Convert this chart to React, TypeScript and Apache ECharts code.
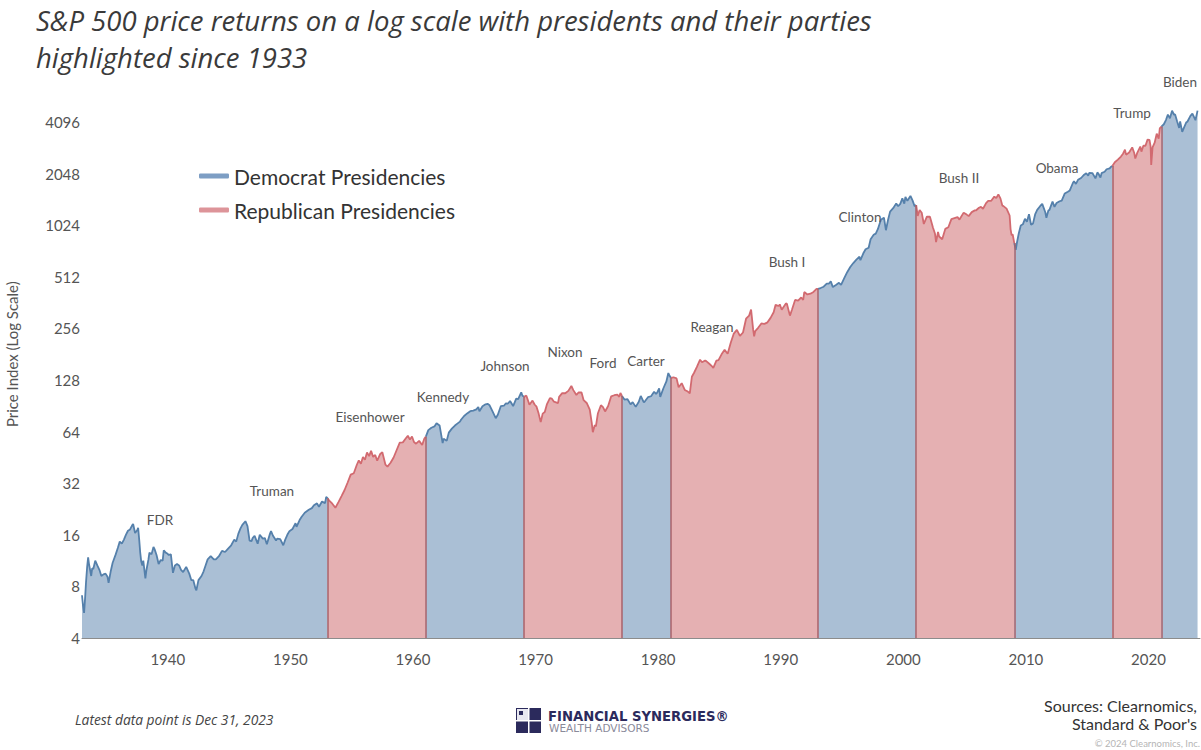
import React, { useEffect, useRef } from "react";
import * as echarts from "echarts";

// S&P 500 price index (decimal year, value)
const sp500: [number, number][] = [
  [1933.0, 7.1], [1933.08, 6.2], [1933.17, 5.6], [1933.25, 6.8], [1933.33, 8.5], [1933.42, 10.4], [1933.5, 11.8], [1933.58, 10.7], [1933.67, 9.9], [1933.75, 9.2], [1933.83, 10.2], [1933.92, 10.1],
  [1934.08, 11.3], [1934.25, 10.6], [1934.42, 10.0], [1934.58, 9.2], [1934.75, 9.4], [1934.92, 9.5],
  [1935.08, 9.1], [1935.17, 8.4], [1935.33, 9.7], [1935.5, 11.0], [1935.75, 12.3], [1935.92, 13.4],
  [1936.08, 14.6], [1936.25, 14.2], [1936.42, 15.0], [1936.58, 16.0], [1936.75, 16.9], [1936.92, 17.2],
  [1937.08, 18.1], [1937.17, 18.5], [1937.33, 16.4], [1937.5, 17.0], [1937.58, 17.6], [1937.67, 14.9], [1937.75, 12.6], [1937.83, 11.2], [1937.92, 10.6],
  [1938.0, 11.3], [1938.17, 8.9], [1938.25, 9.9], [1938.42, 11.5], [1938.5, 12.6], [1938.67, 12.3], [1938.83, 13.6], [1938.92, 13.2],
  [1939.08, 12.2], [1939.25, 10.8], [1939.42, 11.4], [1939.58, 11.3], [1939.67, 13.0], [1939.83, 12.6], [1939.92, 12.5],
  [1940.08, 12.2], [1940.25, 12.3], [1940.42, 9.6], [1940.58, 10.6], [1940.75, 10.8], [1940.92, 10.6],
  [1941.08, 10.0], [1941.25, 9.7], [1941.5, 10.4], [1941.75, 9.5], [1941.92, 8.7],
  [1942.08, 8.7], [1942.25, 7.8], [1942.33, 7.6], [1942.5, 8.7], [1942.75, 9.2], [1942.92, 9.8],
  [1943.08, 10.6], [1943.25, 11.5], [1943.5, 12.0], [1943.75, 11.5], [1943.92, 11.5],
  [1944.17, 12.0], [1944.42, 12.9], [1944.67, 12.7], [1944.92, 13.3],
  [1945.17, 13.9], [1945.42, 15.0], [1945.58, 14.6], [1945.75, 16.2], [1945.92, 17.4],
  [1946.08, 18.3], [1946.33, 19.2], [1946.5, 18.0], [1946.67, 14.8], [1946.83, 14.7], [1946.92, 15.3],
  [1947.08, 15.8], [1947.33, 14.2], [1947.5, 16.0], [1947.75, 15.2], [1947.92, 15.3],
  [1948.08, 14.1], [1948.33, 16.2], [1948.42, 16.8], [1948.58, 15.8], [1948.83, 14.8], [1948.92, 15.2],
  [1949.17, 15.1], [1949.42, 13.9], [1949.58, 15.0], [1949.75, 16.0], [1949.92, 16.8],
  [1950.17, 17.3], [1950.42, 18.7], [1950.5, 17.8], [1950.75, 19.5], [1950.92, 20.4],
  [1951.17, 21.5], [1951.5, 22.4], [1951.75, 22.9], [1951.92, 23.8],
  [1952.17, 24.4], [1952.33, 23.3], [1952.58, 25.0], [1952.83, 24.5], [1952.92, 26.6],
  [1953.05, 26.1], [1953.17, 25.3], [1953.42, 24.3], [1953.67, 23.0], [1953.92, 24.8],
  [1954.17, 26.9], [1954.42, 29.2], [1954.67, 32.3], [1954.92, 35.9],
  [1955.17, 36.6], [1955.42, 41.0], [1955.58, 43.5], [1955.75, 41.5], [1955.92, 45.5],
  [1956.08, 43.8], [1956.25, 48.4], [1956.42, 46.0], [1956.58, 49.4], [1956.75, 45.6], [1956.92, 46.7],
  [1957.08, 43.3], [1957.33, 47.4], [1957.5, 48.5], [1957.75, 41.1], [1957.92, 40.0],
  [1958.17, 42.1], [1958.42, 45.2], [1958.67, 50.0], [1958.92, 55.2],
  [1959.17, 55.4], [1959.42, 58.5], [1959.58, 60.5], [1959.75, 57.5], [1959.92, 59.9],
  [1960.08, 55.6], [1960.25, 54.4], [1960.5, 56.5], [1960.75, 53.4], [1960.92, 58.1],
  [1961.05, 59.8], [1961.25, 65.3], [1961.5, 67.4], [1961.75, 68.6], [1961.92, 71.6],
  [1962.17, 69.5], [1962.42, 54.8], [1962.5, 58.2], [1962.75, 56.5], [1962.92, 63.1],
  [1963.17, 66.6], [1963.42, 69.4], [1963.67, 71.7], [1963.83, 73.2], [1963.92, 75.0],
  [1964.17, 78.9], [1964.42, 81.7], [1964.67, 84.2], [1964.92, 84.8],
  [1965.17, 86.2], [1965.33, 89.1], [1965.42, 84.1], [1965.67, 90.0], [1965.92, 92.4],
  [1966.08, 92.9], [1966.25, 91.1], [1966.5, 83.6], [1966.75, 76.6], [1966.92, 80.3],
  [1967.17, 90.2], [1967.42, 90.6], [1967.58, 93.6], [1967.75, 93.3], [1967.92, 96.5],
  [1968.17, 90.2], [1968.42, 99.6], [1968.58, 98.9], [1968.83, 108.4], [1968.92, 103.9],
  [1969.05, 102.0], [1969.25, 103.7], [1969.5, 91.8], [1969.75, 97.1], [1969.92, 92.1],
  [1970.08, 89.5], [1970.25, 81.5], [1970.42, 72.7], [1970.58, 81.5], [1970.75, 83.3], [1970.92, 92.2],
  [1971.17, 100.3], [1971.33, 99.6], [1971.5, 95.6], [1971.83, 93.9], [1971.92, 102.1],
  [1972.17, 107.2], [1972.42, 107.1], [1972.67, 110.6], [1972.92, 118.1],
  [1973.08, 111.7], [1973.33, 104.7], [1973.5, 108.2], [1973.75, 108.3], [1973.92, 97.6],
  [1974.17, 94.0], [1974.42, 86.0], [1974.58, 72.2], [1974.67, 63.5], [1974.83, 70.0], [1974.92, 68.6],
  [1975.08, 81.6], [1975.33, 91.2], [1975.5, 88.8], [1975.67, 83.9], [1975.92, 90.2],
  [1976.17, 102.8], [1976.42, 104.3], [1976.67, 105.2], [1976.83, 102.1], [1976.92, 107.5],
  [1977.05, 103.3], [1977.25, 98.4], [1977.5, 98.9], [1977.75, 92.3], [1977.92, 95.1],
  [1978.17, 89.2], [1978.42, 95.5], [1978.58, 103.3], [1978.83, 94.7], [1978.92, 96.1],
  [1979.17, 101.6], [1979.42, 102.9], [1979.67, 109.3], [1979.83, 106.2], [1979.92, 107.9],
  [1980.08, 114.2], [1980.17, 102.1], [1980.42, 114.2], [1980.67, 125.5], [1980.83, 140.5], [1980.92, 135.8],
  [1981.05, 131.6], [1981.25, 132.8], [1981.5, 130.9], [1981.67, 116.2], [1981.92, 122.6],
  [1982.17, 112.0], [1982.42, 109.6], [1982.58, 107.1], [1982.75, 133.7], [1982.92, 140.6],
  [1983.17, 153.0], [1983.42, 168.1], [1983.58, 162.6], [1983.83, 166.4], [1983.92, 164.9],
  [1984.17, 159.2], [1984.42, 153.2], [1984.5, 150.7], [1984.75, 166.1], [1984.92, 167.2],
  [1985.17, 180.7], [1985.42, 191.9], [1985.67, 182.1], [1985.92, 211.3],
  [1986.17, 238.9], [1986.42, 250.8], [1986.67, 231.3], [1986.92, 242.2],
  [1987.17, 291.7], [1987.42, 304.0], [1987.58, 329.8], [1987.75, 251.8], [1987.83, 230.3], [1987.92, 247.1],
  [1988.17, 258.9], [1988.42, 273.5], [1988.67, 272.0], [1988.92, 277.7],
  [1989.17, 294.9], [1989.42, 318.0], [1989.58, 351.5], [1989.83, 346.0], [1989.92, 353.4],
  [1990.08, 329.1], [1990.42, 358.0], [1990.5, 356.2], [1990.75, 304.0], [1990.92, 330.2],
  [1991.17, 375.2], [1991.42, 371.2], [1991.67, 387.9], [1991.83, 375.2], [1991.92, 417.1],
  [1992.17, 403.7], [1992.42, 408.1], [1992.67, 417.8], [1992.92, 435.7],
  [1993.05, 435.1], [1993.25, 440.2], [1993.5, 448.1], [1993.75, 467.8], [1993.92, 466.5],
  [1994.08, 481.6], [1994.25, 445.8], [1994.5, 458.3], [1994.75, 472.4], [1994.92, 459.3],
  [1995.17, 500.7], [1995.42, 544.8], [1995.67, 584.4], [1995.92, 615.9],
  [1996.17, 645.5], [1996.42, 670.6], [1996.5, 639.9], [1996.75, 705.3], [1996.92, 740.7],
  [1997.17, 757.1], [1997.33, 848.3], [1997.58, 899.5], [1997.75, 914.6], [1997.92, 970.4],
  [1998.17, 1101.8], [1998.42, 1133.8], [1998.58, 957.3], [1998.75, 1098.7], [1998.92, 1229.2],
  [1999.17, 1286.4], [1999.42, 1372.7], [1999.58, 1320.4], [1999.75, 1362.9], [1999.92, 1469.3],
  [2000.08, 1366.4], [2000.17, 1498.6], [2000.33, 1420.6], [2000.58, 1517.7], [2000.75, 1429.4], [2000.92, 1320.3],
  [2001.05, 1342.5], [2001.17, 1160.3], [2001.33, 1255.8], [2001.5, 1211.2], [2001.67, 1040.9], [2001.92, 1148.1],
  [2002.17, 1147.4], [2002.42, 989.8], [2002.58, 916.1], [2002.67, 815.3], [2002.83, 936.3], [2002.92, 879.8],
  [2003.17, 848.2], [2003.42, 974.5], [2003.67, 996.0], [2003.92, 1111.9],
  [2004.17, 1126.2], [2004.42, 1140.8], [2004.58, 1104.2], [2004.92, 1211.9],
  [2005.17, 1180.6], [2005.33, 1156.9], [2005.58, 1220.3], [2005.83, 1249.5], [2005.92, 1248.3],
  [2006.17, 1294.8], [2006.33, 1310.6], [2006.5, 1276.7], [2006.75, 1377.9], [2006.92, 1418.3],
  [2007.17, 1420.9], [2007.42, 1503.3], [2007.58, 1474.0], [2007.75, 1549.4], [2007.92, 1468.4],
  [2008.08, 1330.6], [2008.17, 1322.7], [2008.42, 1280.0], [2008.67, 1166.4], [2008.75, 968.8], [2008.83, 896.2], [2008.92, 903.3],
  [2009.05, 805.2], [2009.17, 735.1], [2009.25, 797.9], [2009.42, 919.3], [2009.58, 1020.6], [2009.75, 1036.2], [2009.92, 1115.1],
  [2010.08, 1073.9], [2010.25, 1186.7], [2010.42, 1030.7], [2010.58, 1049.3], [2010.75, 1183.3], [2010.92, 1257.6],
  [2011.17, 1325.8], [2011.33, 1363.6], [2011.58, 1218.9], [2011.67, 1131.4], [2011.83, 1247.0], [2011.92, 1257.6],
  [2012.17, 1408.5], [2012.33, 1310.3], [2012.5, 1379.3], [2012.75, 1412.2], [2012.92, 1426.2],
  [2013.17, 1569.2], [2013.42, 1606.3], [2013.58, 1633.0], [2013.83, 1805.8], [2013.92, 1848.4],
  [2014.08, 1782.6], [2014.25, 1883.9], [2014.5, 1930.7], [2014.75, 2018.1], [2014.92, 2058.9],
  [2015.08, 1995.0], [2015.17, 2067.9], [2015.42, 2063.1], [2015.58, 1972.2], [2015.67, 1920.0], [2015.83, 2080.4], [2015.92, 2043.9],
  [2016.08, 1940.2], [2016.17, 2059.7], [2016.42, 2098.9], [2016.58, 2171.0], [2016.83, 2198.8], [2016.92, 2238.8],
  [2017.05, 2271.3], [2017.25, 2384.2], [2017.5, 2470.3], [2017.75, 2575.3], [2017.92, 2673.6],
  [2018.08, 2823.8], [2018.17, 2640.9], [2018.42, 2718.4], [2018.67, 2914.0], [2018.83, 2711.7], [2018.92, 2506.9],
  [2019.08, 2704.1], [2019.33, 2945.8], [2019.42, 2752.1], [2019.58, 2980.4], [2019.75, 2976.7], [2019.92, 3230.8],
  [2020.08, 3225.5], [2020.17, 2954.2], [2020.22, 2300.0], [2020.33, 2912.4], [2020.5, 3100.3], [2020.67, 3500.3], [2020.83, 3270.0], [2020.92, 3756.1],
  [2021.05, 3851.9], [2021.25, 3972.9], [2021.42, 4204.1], [2021.58, 4522.7], [2021.75, 4307.5], [2021.92, 4766.2],
  [2022.08, 4515.6], [2022.17, 4530.4], [2022.33, 4131.9], [2022.5, 3785.4], [2022.58, 4130.3], [2022.75, 3585.6], [2022.92, 3839.5],
  [2023.08, 4076.6], [2023.17, 4109.3], [2023.42, 4450.4], [2023.58, 4589.0], [2023.83, 4193.8], [2024.0, 4769.8],
];

// Party control periods (start, end as decimal years)
const partyPeriods: { party: "D" | "R"; start: number; end: number }[] = [
  { party: "D", start: 1933.0, end: 1953.05 },
  { party: "R", start: 1953.05, end: 1961.05 },
  { party: "D", start: 1961.05, end: 1969.05 },
  { party: "R", start: 1969.05, end: 1977.05 },
  { party: "D", start: 1977.05, end: 1981.05 },
  { party: "R", start: 1981.05, end: 1993.05 },
  { party: "D", start: 1993.05, end: 2001.05 },
  { party: "R", start: 2001.05, end: 2009.05 },
  { party: "D", start: 2009.05, end: 2017.05 },
  { party: "R", start: 2017.05, end: 2021.05 },
  { party: "D", start: 2021.05, end: 2024.0 },
];

const yTicks = [4, 8, 16, 32, 64, 128, 256, 512, 1024, 2048, 4096];
const xTickYears = [1940, 1950, 1960, 1970, 1980, 1990, 2000, 2010, 2020];

// President name annotations [name, px x, px y]
const presidentLabels: [string, number, number][] = [
  ["FDR", 160, 520], ["Truman", 272, 491], ["Eisenhower", 370, 417], ["Kennedy", 443, 397],
  ["Johnson", 505, 366], ["Nixon", 565, 352], ["Ford", 603, 363], ["Carter", 646, 361],
  ["Reagan", 712, 327], ["Bush I", 787, 262], ["Clinton", 860, 217], ["Bush II", 959, 178],
  ["Obama", 1057, 168], ["Trump", 1132, 113], ["Biden", 1180, 82],
];

const titleLines = [
  "S&P 500 price returns on a log scale with presidents and their parties",
  "highlighted since 1933",
];

const DEM = "Democrat Presidencies";
const REP = "Republican Presidencies";
const colors = {
  D: { line: "#5580ab", fill: "#aabfd5", legend: "#7d9ec4" },
  R: { line: "#d26a70", fill: "#e5b0b2", legend: "#dd9499" },
};
const boundaryColor = "#a9626a";
const FONT = "Lato, 'Noto Sans', sans-serif";

export default function App() {
  const ref = useRef<HTMLDivElement>(null);
  useEffect(() => {
    document.body.style.margin = "0";
    if (!ref.current) return;
    const chart = echarts.init(ref.current, undefined, { renderer: "svg" });

    const series: any[] = partyPeriods.map((p, i) => {
      const pts = sp500.filter((d) => d[0] >= p.start && d[0] <= p.end);
      const c = colors[p.party];
      const s: any = {
        type: "line",
        name: p.party === "D" ? DEM : REP,
        data: pts,
        showSymbol: false,
        symbol: "none",
        color: c.line,
        lineStyle: { color: c.line, width: 1.8 },
        areaStyle: { color: c.fill, opacity: 1, origin: "start" },
        z: 2,
      };
      if (i > 0 && pts.length) {
        s.markLine = {
          silent: true,
          symbol: "none",
          label: { show: false },
          lineStyle: { color: boundaryColor, width: 1.5, type: "solid" },
          data: [[{ coord: [pts[0][0], 4] }, { coord: [pts[0][0], pts[0][1]] }]],
        };
      }
      return s;
    });

    const graphics: any[] = presidentLabels.map(([name, x, y]) => ({
      type: "text",
      x,
      y,
      style: {
        text: name,
        fontFamily: FONT,
        fontSize: 13.5,
        fill: "#555",
        textAlign: "center",
        textVerticalAlign: "middle",
      },
      z: 10,
    }));

    titleLines.forEach((line, i) => {
      graphics.push({
        type: "text",
        x: 36,
        y: 20 + i * 37,
        style: {
          text: line,
          fontFamily: "'Open Sans', sans-serif",
          fontStyle: "italic",
          fontSize: 27.5,
          fill: "#3a3a3a",
          textVerticalAlign: "middle",
        },
      });
    });

    graphics.push(
      {
        type: "text",
        x: 75,
        y: 719,
        style: {
          text: "Latest data point is Dec 31, 2023",
          fontFamily: "'Open Sans', sans-serif",
          fontStyle: "italic",
          fontSize: 13.8,
          fill: "#444",
          textVerticalAlign: "middle",
        },
      },
      // logo icon
      { type: "rect", shape: { x: 516, y: 708, width: 25, height: 25 }, style: { fill: "#2b2a5c" } },
      { type: "rect", shape: { x: 517, y: 709, width: 11, height: 11 }, style: { fill: "#e8e8f0" } },
      { type: "rect", shape: { x: 519, y: 711, width: 4, height: 4 }, style: { fill: "#2b2a5c" } },
      { type: "rect", shape: { x: 528, y: 708, width: 1.5, height: 25 }, style: { fill: "#ffffff" } },
      { type: "rect", shape: { x: 516, y: 720, width: 25, height: 1.5 }, style: { fill: "#ffffff" } },
      {
        type: "text",
        x: 548,
        y: 716,
        style: {
          text: "FINANCIAL SYNERGIES®",
          fontFamily: "'DejaVu Sans', sans-serif",
          fontWeight: "bold",
          fontSize: 13.2,
          fill: "#2b2a5c",
          textVerticalAlign: "middle",
        },
      },
      {
        type: "text",
        x: 549,
        y: 728,
        style: {
          text: "WEALTH ADVISORS",
          fontFamily: "'DejaVu Sans', sans-serif",
          fontSize: 10.5,
          fill: "#8a8a9a",
          textVerticalAlign: "middle",
        },
      },
      {
        type: "text",
        x: 1197,
        y: 696,
        style: {
          text: "Sources: Clearnomics,\nStandard & Poor's",
          fontFamily: FONT,
          fontSize: 16,
          lineHeight: 18.5,
          fill: "#333",
          textAlign: "right",
        },
      },
      {
        type: "text",
        x: 1200,
        y: 743,
        style: {
          text: "© 2024 Clearnomics, Inc.",
          fontFamily: FONT,
          fontSize: 9.5,
          fill: "#b5b5b5",
          textAlign: "right",
          textVerticalAlign: "middle",
        },
      }
    );

    chart.setOption({
      animation: false,
      backgroundColor: "#ffffff",
      grid: { left: 82, right: 1, top: 70.4, bottom: 112, containLabel: false, outerBoundsMode: "none" },
      legend: {
        left: 194,
        top: 159,
        orient: "vertical",
        icon: "roundRect",
        itemWidth: 30,
        itemHeight: 5,
        itemGap: 10,
        textStyle: { fontFamily: FONT, fontSize: 21, color: "#333", lineHeight: 24 },
        data: [
          { name: DEM, itemStyle: { color: colors.D.legend } },
          { name: REP, itemStyle: { color: colors.R.legend } },
        ],
        selectedMode: false,
      },
      xAxis: {
        type: "value",
        min: 1933,
        max: 2024.2,
        interval: 1,
        axisLine: { show: true, lineStyle: { color: "#8c8c8c", width: 1 } },
        axisTick: { show: false },
        splitLine: { show: false },
        axisLabel: {
          margin: 13,
          fontFamily: FONT,
          fontSize: 15,
          color: "#555",
          formatter: (v: number) => (xTickYears.includes(Math.round(v)) ? String(Math.round(v)) : ""),
        },
      },
      yAxis: {
        type: "log",
        logBase: 2,
        min: 4,
        max: 8192,
        interval: 1,
        name: "Price Index (Log Scale)",
        nameLocation: "middle",
        nameRotate: 90,
        nameGap: 63,
        nameTextStyle: { fontFamily: FONT, fontSize: 15, color: "#555" },
        axisLine: { show: false },
        axisTick: { show: false },
        splitLine: { show: false },
        axisLabel: {
          margin: 2,
          fontFamily: FONT,
          fontSize: 15,
          color: "#555",
          formatter: (v: number) => {
            const r = Math.round(v);
            return yTicks.includes(r) ? String(r) : "";
          },
        },
      },
      series,
      graphic: graphics,
    });

    return () => chart.dispose();
  }, []);

  return <div ref={ref} style={{ width: 1201, height: 750 }} />;
}
